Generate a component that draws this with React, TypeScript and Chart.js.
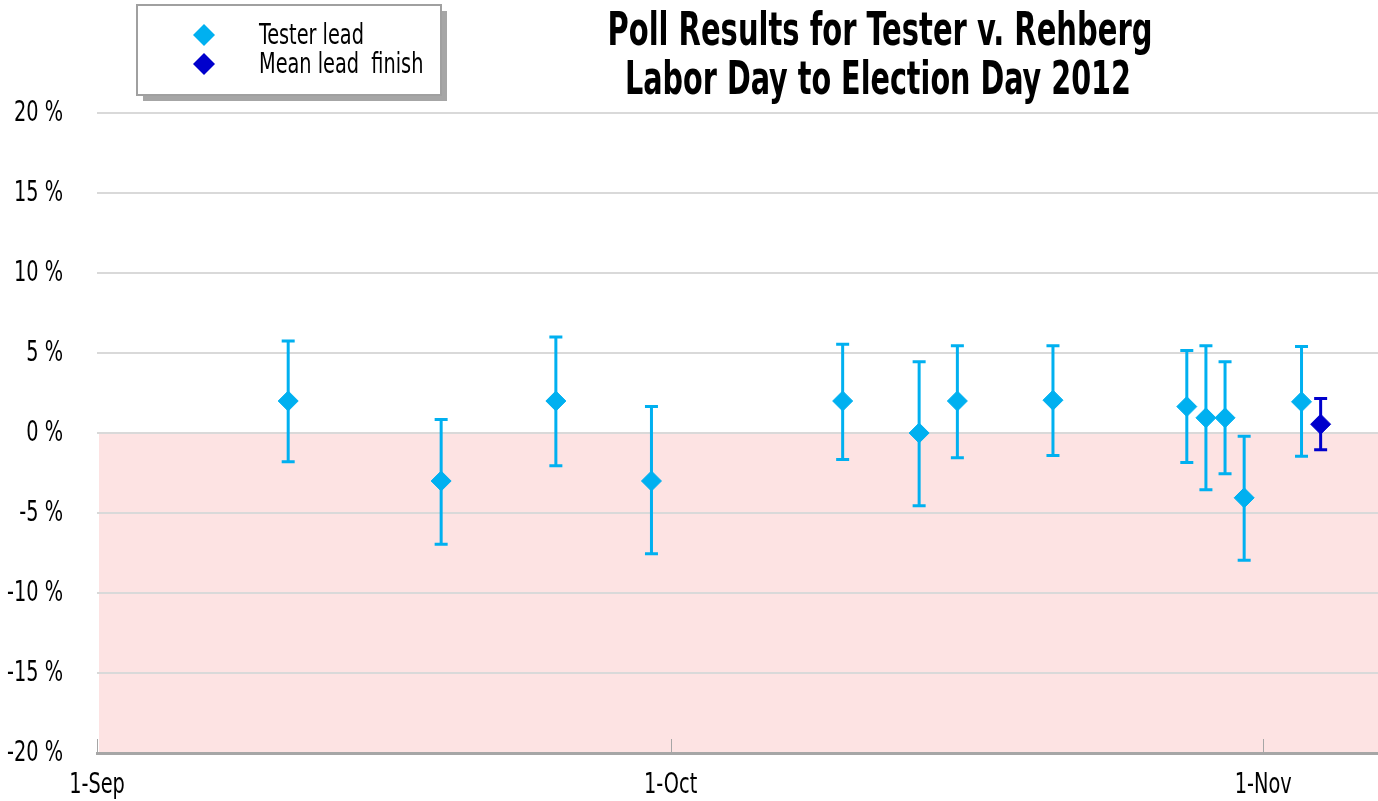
import React, { useEffect, useRef } from 'react';
import { Chart, registerables } from 'chart.js';

Chart.register(...registerables);

// Days counted from 1-Sep-2012 (day 0)
const pollDays = [10, 18, 24, 29, 39, 43, 45, 50, 57, 58, 59, 60, 63];
const pollLeads = [2, -3, 2, -3, 2, 0, 2, 2.05, 1.65, 0.95, 0.95, -4.05, 1.95];
const pollHigh = [5.75, 0.85, 6, 1.65, 5.55, 4.45, 5.45, 5.45, 5.15, 5.45, 4.45, -0.2, 5.4];
const pollLow = [-1.8, -6.95, -2.05, -7.55, -1.65, -4.55, -1.55, -1.4, -1.85, -3.55, -2.55, -7.95, -1.45];

const meanDays = [64];
const meanLeads = [0.55];
const meanHigh = [2.15];
const meanLow = [-1.05];

const xTickDays = [0, 30, 61];
const xTickLabels = ['1-Sep', '1-Oct', '1-Nov'];
const xMin = 0;
const xMax = 67;
const yMin = -20;
const yMax = 20;
const yStep = 5;
const shadeTop = 0;
const shadeBottom = -20;

const titleLines = ['Poll Results for Tester v. Rehberg', 'Labor Day to Election Day 2012'];
const seriesNames = ['Tester lead', 'Mean lead  finish'];
const seriesColors = ['#00b0f0', '#0000cc'];

const NARROW = '"DejaVu Sans Condensed", sans-serif';
const SQUEEZE = 0.74;

const errorSets = [
  { high: pollHigh, low: pollLow },
  { high: meanHigh, low: meanLow },
];

const decorPlugin = {
  id: 'decor',
  beforeDraw(chart: any) {
    const { ctx, chartArea, scales } = chart;
    const y = scales.y;
    const top = y.getPixelForValue(shadeTop);
    const bottom = y.getPixelForValue(shadeBottom);
    ctx.save();
    ctx.fillStyle = '#fde3e3';
    ctx.fillRect(chartArea.left + 2, top, chartArea.right - chartArea.left - 2, bottom - top);
    ctx.restore();
  },
  beforeDatasetsDraw(chart: any) {
    const { ctx, chartArea, scales } = chart;
    const x = scales.x;
    const y = scales.y;
    ctx.save();
    // inward tick marks on the x axis
    ctx.strokeStyle = '#a6a6a6';
    ctx.lineWidth = 1;
    xTickDays.forEach((d) => {
      const px = Math.round(x.getPixelForValue(d)) + 0.5;
      ctx.beginPath();
      ctx.moveTo(px, chartArea.bottom - 14);
      ctx.lineTo(px, chartArea.bottom);
      ctx.stroke();
    });
    // error bars
    chart.data.datasets.forEach((ds: any, i: number) => {
      const err = errorSets[i];
      ctx.strokeStyle = seriesColors[i];
      ctx.lineWidth = 3;
      ds.data.forEach((pt: any, j: number) => {
        const px = x.getPixelForValue(pt.x);
        const ph = y.getPixelForValue(err.high[j]);
        const pl = y.getPixelForValue(err.low[j]);
        ctx.beginPath();
        ctx.moveTo(px, ph);
        ctx.lineTo(px, pl);
        ctx.moveTo(px - 6.5, ph);
        ctx.lineTo(px + 6.5, ph);
        ctx.moveTo(px - 6.5, pl);
        ctx.lineTo(px + 6.5, pl);
        ctx.stroke();
      });
    });
    ctx.restore();
  },
  afterDraw(chart: any) {
    const { ctx } = chart;
    ctx.save();
    // title
    ctx.fillStyle = '#000';
    ctx.textAlign = 'center';
    ctx.textBaseline = 'alphabetic';
    ctx.font = `bold 46px ${NARROW}`;
    ctx.fillText(titleLines[0], 880, 45, 545);
    ctx.fillText(titleLines[1], 878, 94, 506);

    // legend box with shadow
    const bx = 137, by = 5, bw = 304, bh = 90;
    ctx.fillStyle = '#a6a6a6';
    ctx.fillRect(bx + 6, by + 6, bw, bh);
    ctx.fillStyle = '#ffffff';
    ctx.fillRect(bx, by, bw, bh);
    ctx.strokeStyle = '#a0a0a0';
    ctx.lineWidth = 2;
    ctx.strokeRect(bx, by, bw, bh);

    const rows = [35, 64];
    const widths = [106, 166];
    ctx.textAlign = 'left';
    ctx.textBaseline = 'middle';
    ctx.font = `29px ${NARROW}`;
    rows.forEach((ry, i) => {
      ctx.fillStyle = seriesColors[i];
      ctx.beginPath();
      ctx.moveTo(204, ry - 11);
      ctx.lineTo(215, ry);
      ctx.lineTo(204, ry + 11);
      ctx.lineTo(193, ry);
      ctx.closePath();
      ctx.fill();
      ctx.fillStyle = '#000';
      ctx.fillText(seriesNames[i], 259, ry + 1, widths[i]);
    });
    ctx.restore();
  },
};

export default function App() {
  const canvasRef = useRef<HTMLCanvasElement | null>(null);

  useEffect(() => {
    document.body.style.margin = '0';
    const canvas = canvasRef.current;
    if (!canvas) return;
    const ctx2d = canvas.getContext('2d') as any;
    const origFillText = ctx2d.fillText;
    // Condense regular-weight text horizontally to imitate a condensed face
    ctx2d.fillText = function (text: string, x: number, y: number, maxWidth?: number) {
      const f = String(this.font);
      if (f.indexOf('Condensed') >= 0 && f.indexOf('bold') < 0 && f.indexOf('700') < 0) {
        this.save();
        this.translate(x, y);
        this.scale(SQUEEZE, 1);
        if (maxWidth !== undefined) origFillText.call(this, text, 0, 0, maxWidth / SQUEEZE);
        else origFillText.call(this, text, 0, 0);
        this.restore();
      } else if (maxWidth !== undefined) {
        origFillText.call(this, text, x, y, maxWidth);
      } else {
        origFillText.call(this, text, x, y);
      }
    };
    const chart = new Chart(canvas, {
      type: 'scatter',
      data: {
        datasets: [
          {
            label: seriesNames[0],
            data: pollDays.map((d, i) => ({ x: d, y: pollLeads[i] })),
            backgroundColor: seriesColors[0],
            borderColor: seriesColors[0],
            pointStyle: 'rectRot',
            pointRadius: 10,
            pointHoverRadius: 10,
            borderWidth: 1,
          },
          {
            label: seriesNames[1],
            data: meanDays.map((d, i) => ({ x: d, y: meanLeads[i] })),
            backgroundColor: seriesColors[1],
            borderColor: seriesColors[1],
            pointStyle: 'rectRot',
            pointRadius: 10,
            pointHoverRadius: 10,
            borderWidth: 1,
          },
        ],
      },
      options: {
        responsive: false,
        animation: false,
        events: [],
        layout: { autoPadding: false, padding: { top: 113, right: 0, bottom: 0, left: 0 } },
        plugins: {
          legend: { display: false },
          title: { display: false },
          tooltip: { enabled: false },
        },
        scales: {
          x: {
            type: 'linear',
            min: xMin,
            max: xMax,
            afterBuildTicks: (scale: any) => {
              scale.ticks = xTickDays.map((v) => ({ value: v }));
            },
            afterFit: (scale: any) => {
              scale.height = 48;
              scale.paddingLeft = 0;
              scale.paddingRight = 0;
              scale.paddingTop = 0;
              scale.paddingBottom = 0;
            },
            grid: { display: false, drawTicks: false },
            border: { display: true, color: '#a6a6a6', width: 3 },
            ticks: {
              padding: 15,
              color: '#000',
              font: { family: NARROW, size: 29 },
              maxRotation: 0,
              autoSkip: false,
              callback: (v: any) => {
                const idx = xTickDays.indexOf(Number(v));
                return idx >= 0 ? xTickLabels[idx] : '';
              },
            },
          },
          y: {
            type: 'linear',
            min: yMin,
            max: yMax,
            afterFit: (scale: any) => {
              scale.width = 97;
              scale.paddingLeft = 0;
              scale.paddingRight = 0;
              scale.paddingTop = 0;
              scale.paddingBottom = 0;
            },
            grid: { display: true, drawTicks: false, color: '#d9d9d9', lineWidth: 2 },
            border: { display: false },
            ticks: {
              stepSize: yStep,
              padding: 34,
              color: '#000',
              font: { family: NARROW, size: 29 },
              callback: (v: any) => `${v} %`,
            },
          },
        },
      },
      plugins: [decorPlugin],
    });
    return () => {
      chart.destroy();
      ctx2d.fillText = origFillText;
    };
  }, []);

  return (
    <div style={{ position: 'fixed', left: 0, top: 0, width: 1378, height: 801, background: '#fff' }}>
      <canvas ref={canvasRef} width={1378} height={801} style={{ display: 'block' }} />
    </div>
  );
}
